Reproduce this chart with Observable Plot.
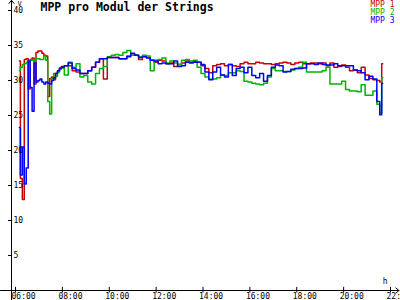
<!DOCTYPE html>
<html><head><meta charset="utf-8">
<script src="https://cdn.jsdelivr.net/npm/d3@7"></script>
<script src="https://cdn.jsdelivr.net/npm/@observablehq/plot@0.6"></script>
<style>html,body{margin:0;padding:0;background:#fff;} svg{display:block}</style>
</head><body><div id="chart"></div>
<script>
const title = "MPP pro Modul der Strings";
const seriesNames = ["MPP 1", "MPP 2", "MPP 3"];
const seriesColors = ["#c80000", "#00b400", "#0000ff"];
const yUnit = "V";
const xUnit = "h";

const times = [
"06:10","06:15","06:20","06:25","06:30","06:35","06:40","06:45","06:50","06:55",
"07:00","07:05","07:10","07:15","07:20","07:25","07:30","07:35","07:40","07:45","07:50","07:55",
"08:00","08:10","08:20","08:30","08:40","08:50",
"09:00","09:10","09:20","09:30","09:40","09:50",
"10:00","10:10","10:20","10:30","10:40","10:50",
"11:00","11:10","11:20","11:30","11:40","11:50",
"12:00","12:10","12:20","12:30","12:40","12:50",
"13:00","13:10","13:20","13:30","13:40","13:50",
"14:00","14:10","14:20","14:30","14:40","14:50",
"15:00","15:10","15:20","15:30","15:40","15:50",
"16:00","16:10","16:20","16:30","16:40","16:50",
"17:00","17:10","17:20","17:30","17:40","17:50",
"18:00","18:10","18:20","18:30","18:40","18:50",
"19:00","19:10","19:20","19:30","19:40","19:50",
"20:00","20:10","20:20","20:30","20:40","20:50",
"21:00","21:10","21:20","21:30","21:35","21:40"
];

const mpp1 = [
32.8,16.0,13.0,33.0,33.1,28.8,33.0,33.2,29.5,34.0,
34.2,34.2,33.9,33.6,33.5,27.7,30.3,30.5,30.1,31.0,31.3,31.7,
32.0,32.1,32.1,31.4,31.2,31.0,
31.0,31.4,31.9,32.6,33.1,30.2,
33.3,33.3,33.3,33.1,33.1,33.5,
33.6,33.6,33.0,33.5,33.3,32.9,
32.6,32.9,32.8,32.4,32.5,32.0,
32.3,32.5,32.8,32.6,32.7,32.6,
32.1,31.7,31.1,32.1,32.3,32.4,
32.1,32.3,32.1,32.0,32.4,32.6,
32.4,32.4,32.6,32.5,32.4,32.4,
32.3,32.4,32.5,32.6,32.5,32.3,
32.5,32.6,32.4,32.4,32.5,32.5,
32.4,32.5,32.1,32.5,31.9,32.0,
32.2,31.9,31.4,31.5,31.1,31.9,
30.8,30.3,30.1,30.0,29.8,32.4
];

const mpp2 = [
31.4,31.9,32.3,32.4,32.6,32.8,32.9,32.9,32.9,33.1,
33.1,33.0,33.0,33.5,32.9,27.0,25.2,30.3,31.0,30.6,31.2,31.6,
31.8,30.8,32.6,31.9,32.4,30.5,
30.7,29.8,29.5,31.0,31.7,32.0,
33.4,33.6,33.7,33.6,34.0,34.3,
33.6,33.6,33.4,33.6,33.5,31.4,
32.9,33.0,33.2,32.5,32.8,32.5,
32.3,32.9,33.0,32.8,32.9,31.9,
31.0,30.5,30.2,30.2,30.4,30.8,
30.7,31.1,31.1,31.4,31.3,29.9,
29.8,29.6,29.5,29.4,29.6,30.5,
31.7,31.4,31.4,31.3,31.3,31.5,
31.7,31.9,32.6,31.2,31.2,31.2,
31.2,31.4,31.9,29.5,29.5,29.5,
29.9,28.7,28.5,28.5,28.4,29.4,
27.9,27.9,28.5,26.6,25.4,30.4
];

const mpp3 = [
23.3,16.5,20.5,15.2,17.5,32.8,29.0,25.6,32.5,29.8,
30.0,30.2,29.8,29.5,29.8,29.6,29.5,30.0,30.4,31.0,31.4,31.8,
31.9,32.1,32.5,31.7,31.5,31.0,
31.0,31.4,31.9,32.6,33.1,33.1,
33.3,33.3,33.3,33.1,33.1,33.4,
33.9,33.6,33.3,33.4,33.2,32.9,
32.8,32.4,32.5,32.4,32.4,32.8,
32.0,32.1,32.6,32.5,32.6,32.6,
32.3,31.2,30.1,31.2,31.9,30.8,
30.5,32.3,30.7,31.7,31.9,31.1,
31.9,30.7,30.4,31.0,29.9,30.7,
31.9,32.2,32.1,31.2,31.3,31.6,
31.7,31.7,31.8,32.4,32.4,32.3,
32.5,32.3,32.2,32.2,32.4,32.1,
32.1,32.1,32.1,31.5,31.4,31.1,
30.1,30.6,30.2,27.0,25.1,29.6
];

const xTickHours = [6, 8, 10, 12, 14, 16, 18, 20, 22];
const xTickLabels = ["06:00","08:00","10:00","12:00","14:00","16:00","18:00","20:00","22:00"];
const yTicks = [5, 10, 15, 20, 25, 30, 35, 40];

// axis geometry in data units
const yAxisHour = 5.83;
const xAxisStart = 5.36, xAxisEnd = 22.36;
const yAxisStart = -1.5, yAxisEnd = 41.45;

const toHour = s => { const [h, m] = s.split(":").map(Number); return h + m / 60; };
const rows = [];
[mpp1, mpp2, mpp3].forEach((vals, k) =>
  vals.forEach((v, i) => rows.push({series: seriesNames[k], t: toHour(times[i]), v})));

const axisLines = [
  {x1: xAxisStart, y1: 0, x2: xAxisEnd, y2: 0},
  {x1: yAxisHour, y1: yAxisStart, x2: yAxisHour, y2: yAxisEnd}
];

const font = "DejaVu Sans Mono";

const chart = Plot.plot({
  width: 400, height: 300,
  marginTop: 0, marginRight: 0, marginBottom: 0, marginLeft: 0,
  x: {domain: [6, 22], range: [15, 390], axis: null},
  y: {domain: [0, 40], range: [290, 10], axis: null},
  color: {domain: seriesNames, range: seriesColors},
  style: {fontFamily: font, fontSize: "8px", background: "#fff", overflow: "hidden"},
  marks: [
    Plot.line(rows, {x: "t", y: "v", stroke: "series", z: "series", strokeWidth: 1.5, curve: "step"}),
    Plot.arrow(axisLines, {x1: "x1", y1: "y1", x2: "x2", y2: "y2", stroke: "#000", strokeWidth: 1, headLength: 6, headAngle: 80}),
    Plot.ruleX(xTickHours, {x: d => d, y1: () => -0.35, y2: () => 0.45, stroke: "#000"}),
    Plot.ruleY(yTicks, {y: d => d, x1: () => 5.7, x2: () => 5.875, stroke: "#000"}),
    Plot.text(yTicks, {x: () => yAxisHour, y: d => d, text: d => String(d), textAnchor: "start", dx: 2, lineAnchor: "middle", fontSize: 8, fill: "#000"}),
    Plot.text(xTickHours, {x: d => d, y: () => 0, text: (d, i) => xTickLabels[i], textAnchor: "start", dx: -4, dy: 6, lineAnchor: "middle", fontSize: 8, fill: "#000"}),
    Plot.text([title], {frameAnchor: "top-left", dx: 40, dy: 7, text: d => d, textAnchor: "start", lineAnchor: "middle", fontSize: 11.5, fontWeight: "bold", fill: "#000"}),
    Plot.text([yUnit], {frameAnchor: "top-left", dx: 17, dy: 3, text: d => d, lineAnchor: "middle", fontSize: 7, fill: "#000"}),
    Plot.text([xUnit], {frameAnchor: "bottom-right", dx: -13, dy: -19, text: d => d, lineAnchor: "middle", fontSize: 8, fill: "#000"}),
    ...seriesNames.map((name, i) =>
      Plot.text([name], {frameAnchor: "top-right", dx: -6, dy: 4 + 8 * i, text: d => d, textAnchor: "end", lineAnchor: "middle", fontSize: 8, fill: seriesColors[i]}))
  ]
});
document.getElementById("chart").appendChild(chart);
</script>
</body></html>
